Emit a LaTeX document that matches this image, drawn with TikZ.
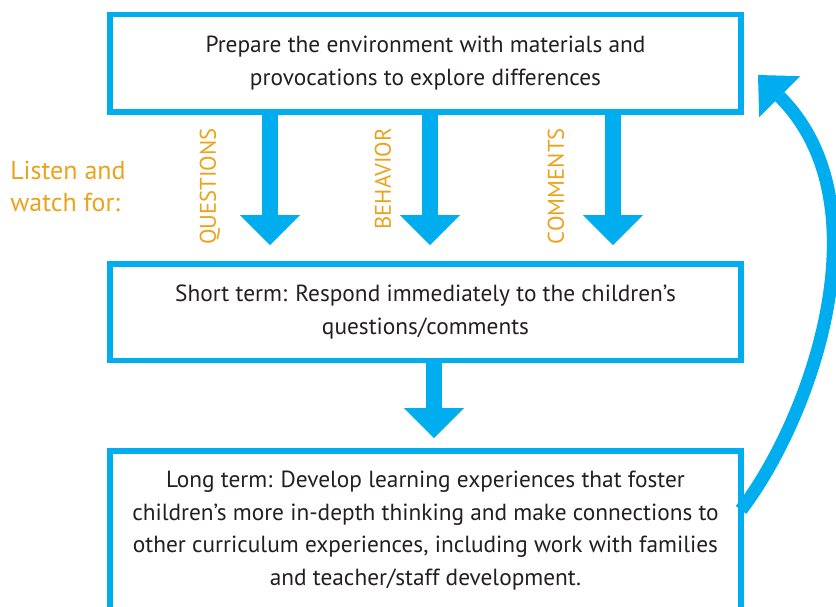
\documentclass[tikz,border=0pt]{standalone}
\usepackage{fontspec}
\setmainfont{PT Sans}
\usetikzlibrary{calc,arrows.meta}
\definecolor{boxblue}{RGB}{0,174,239}
\definecolor{cueorange}{RGB}{234,163,27}
\definecolor{textgray}{RGB}{35,31,32}

\begin{document}
\begin{tikzpicture}[x=0.75pt,y=-0.75pt,
    stepbox/.style={draw=boxblue, line width=4pt, rectangle, outer sep=0pt,
        inner sep=0pt, minimum width=473.25pt, align=center, text=textgray,
        font=\fontsize{17.5}{24.5}\selectfont},
    bigarrow/.style={draw=boxblue, line width=11.5pt,
        -{Triangle[width=45pt,length=22.5pt,line width=0pt]}},
    cue/.style={rotate=90, anchor=east, inner sep=0pt, text=cueorange,
        font=\fontsize{17}{17}\selectfont}]
\useasboundingbox (0,0) rectangle (836,607);

% Boxes
\node[stepbox, minimum height=73pt] (prep) at (425.5,63.35)
    {Prepare the environment with materials and\\provocations to explore differences};
\node[stepbox, minimum height=72.5pt] (short) at (425.5,312.35)
    {Short term: Respond immediately to the children’s\\questions/comments};
\node[stepbox, minimum height=119.25pt] (long) at (425.5,530.5)
    {Long term: Develop learning experiences that foster\\
     children’s more in-depth thinking and make connections to\\
     other curriculum experiences, including work with families\\
     and teacher/staff development.};

% Listen and watch for
\node[anchor=west, align=left, inner sep=0pt, text=cueorange,
    font=\fontsize{19.5}{24}\selectfont] (listen) at (10,186) {Listen and\\watch for:};

% Cue arrows
\foreach \x/\lab/\lx in {270/QUESTIONS/210, 430/BEHAVIOR/383, 613/COMMENTS/556} {
    \coordinate (a\x) at (\x,0);
    \draw[bigarrow, shorten >=14.25pt] (prep.south -| a\x) -- (short.north -| a\x);
    \node[cue] (cue\x) at (\lx,128) {\lab};
}

% Short term to long term
\coordinate (mid) at (434,0);
\draw[bigarrow, shorten >=9.75pt] (short.south -| mid) -- (long.north -| mid);

% Back to the start
\coordinate (back) at (758,75);
\draw[draw=boxblue, line width=9.75pt,
    -{Triangle[width=43.5pt,length=23pt,line width=0pt]}]
    ([yshift=-44.25pt]long.north east) .. controls (810,420) and (888,205) .. (back);
\end{tikzpicture}
\end{document}
